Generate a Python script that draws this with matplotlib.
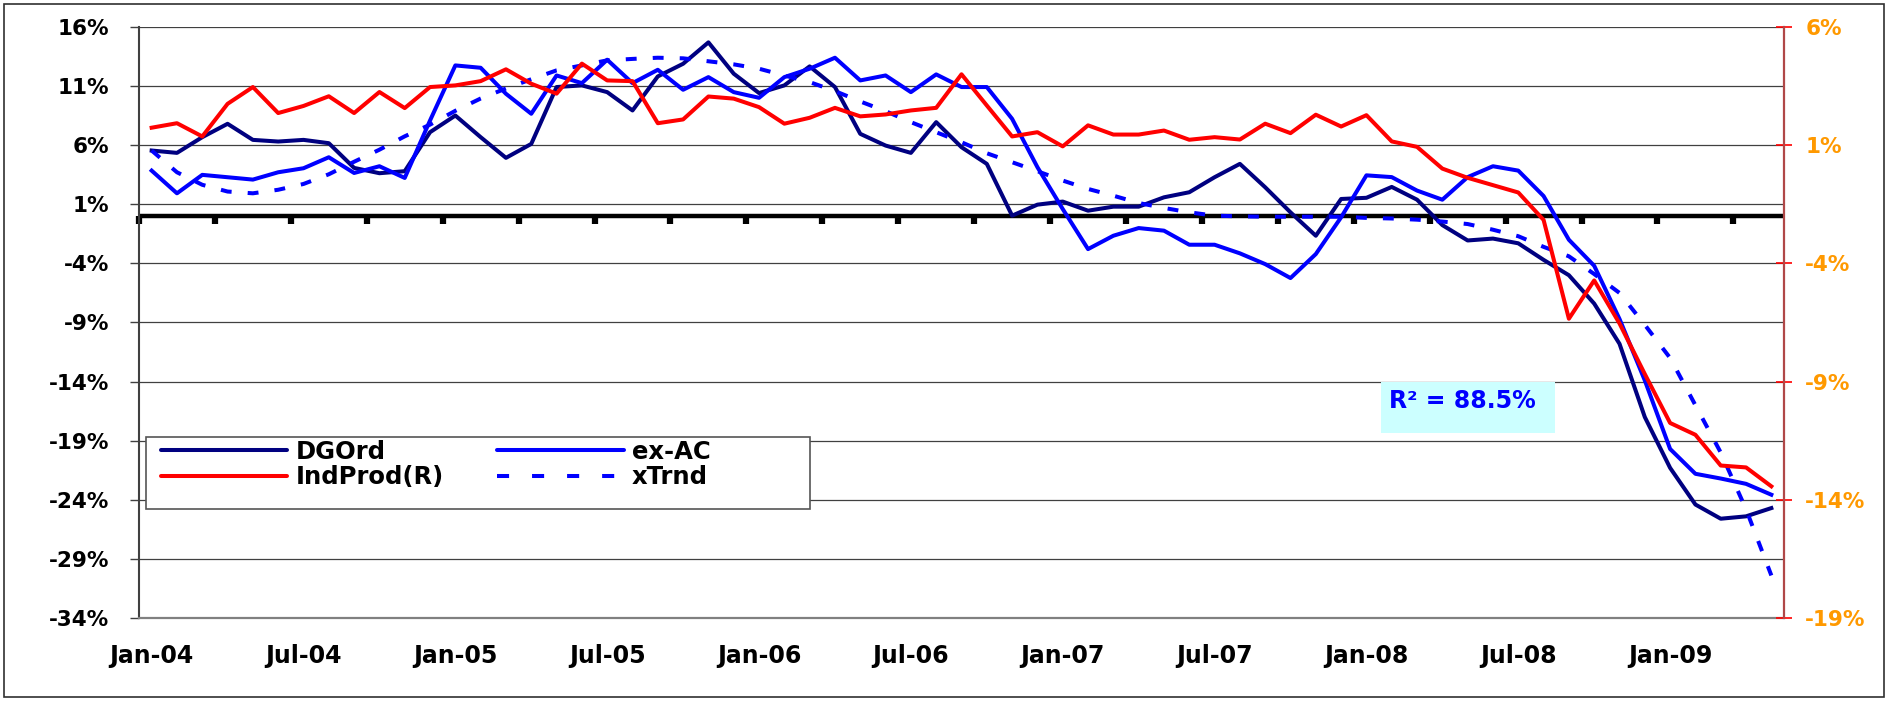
import numpy as np
import pandas as pd
import matplotlib
matplotlib.use("Agg")
import matplotlib.pyplot as plt
from matplotlib.patches import Rectangle
from matplotlib.lines import Line2D

# ---------------- data ----------------
months = [d.strftime("%b-%y") for d in pd.period_range("2004-01", "2009-05", freq="M")]

dgord = [5.55, 5.35, 6.68, 7.81, 6.45, 6.31, 6.45, 6.17, 4.08, 3.63, 3.80, 7.10,
         8.51, 6.68, 4.93, 6.11, 10.92, 11.06, 10.49, 8.94, 11.82, 12.89, 14.70, 12.05,
         10.41, 11.06, 12.67, 10.92, 6.96, 5.97, 5.35, 7.95, 5.83, 4.42, 0.04, 0.97,
         1.23, 0.46, 0.80, 0.80, 1.59, 2.02, 3.29, 4.42, 2.44, 0.32, -1.66, 1.45,
         1.55, 2.47, 1.39, -0.76, -2.06, -1.90, -2.30, -3.70, -5.00, -7.40, -10.80, -17.00,
         -21.30, -24.40, -25.60, -25.40, -24.70]

ex_ac = [3.85, 1.93, 3.49, 3.29, 3.09, 3.71, 4.05, 4.98, 3.65, 4.22, 3.23, 8.09,
         12.75, 12.55, 10.35, 8.66, 11.90, 11.25, 13.23, 11.25, 12.38, 10.69, 11.76, 10.49,
         10.01, 11.76, 12.47, 13.40, 11.48, 11.90, 10.49, 11.99, 10.92, 10.92, 8.23, 4.14,
         0.60, -2.79, -1.66, -1.01, -1.23, -2.42, -2.42, -3.15, -4.06, -5.24, -3.21, -0.10,
         3.45, 3.30, 2.16, 1.39, 3.30, 4.22, 3.85, 1.70, -2.00, -4.20, -8.70, -13.90,
         -19.70, -21.80, -22.20, -22.65, -23.57]

indprod = [1.74, 1.93, 1.37, 2.75, 3.46, 2.36, 2.66, 3.07, 2.36, 3.25, 2.57, 3.46,
           3.53, 3.71, 4.21, 3.60, 3.18, 4.45, 3.74, 3.71, 1.93, 2.09, 3.06, 2.97,
           2.61, 1.91, 2.16, 2.58, 2.22, 2.30, 2.47, 2.58, 4.00, 2.68, 1.37, 1.55,
           0.95, 1.84, 1.45, 1.45, 1.62, 1.23, 1.34, 1.24, 1.91, 1.51, 2.29, 1.79,
           2.27, 1.16, 0.93, 0.01, -0.38, -0.69, -1.00, -2.16, -6.34, -4.72, -6.54, -8.68,
           -10.75, -11.25, -12.55, -12.63, -13.43]

xtrnd = [5.55, 3.71, 2.65, 2.08, 1.93, 2.23, 2.72, 3.54, 4.60, 5.62, 6.75, 7.74,
         8.91, 9.95, 10.80, 11.58, 12.33, 12.75, 13.18, 13.30, 13.40, 13.35, 13.10, 12.84,
         12.47, 11.90, 11.34, 10.58, 9.70, 8.88, 7.95, 7.10, 6.25, 5.32, 4.56, 3.80,
         3.01, 2.30, 1.73, 1.11, 0.69, 0.32, 0.04, -0.02, -0.05, -0.05, -0.05, -0.05,
         -0.15, -0.20, -0.30, -0.46, -0.67, -1.15, -1.70, -2.60, -3.40, -4.90, -6.50, -9.20,
         -12.00, -16.00, -20.00, -24.80, -30.40]

left_ticks = [16, 11, 6, 1, -4, -9, -14, -19, -24, -29, -34]
right_ticks = [6, 1, -4, -9, -14, -19]
left_labels = [f"{t}%" for t in left_ticks]
right_labels = [f"{t}%" for t in right_ticks]
r2_text = "R\u00b2 = 88.5%"
series_names = ["DGOrd", "IndProd(R)", "ex-AC", "xTrnd"]

# ---------------- styling ----------------
plt.rcParams['font.family'] = ['DejaVu Sans']
plt.rcParams['font.weight'] = 'bold'

NAVY = '#000080'
BLUE = '#0000FF'
RED = '#FF0000'
ORANGE = '#FF9900'
LW = 2.9

W, H = 1900, 701
fig = plt.figure(figsize=(W / 100, H / 100), dpi=100)
L, R, T, B = 139, 1784, 27, 618
ax = fig.add_axes([L / W, 1 - B / H, (R - L) / W, (B - T) / H])
ax2 = ax.twinx()

x = np.arange(len(months))
ax.set_xlim(-0.5, len(months) - 0.5)
ax.set_ylim(-34, 16)
ax2.set_ylim(-19, 6)

# grid
ax.set_yticks(left_ticks)
ax.set_yticklabels(left_labels)
ax.yaxis.grid(True, color='#404040', lw=0.9, zorder=0)
ax.set_axisbelow(True)

# x ticks
xt = x[::6]
ax.set_xticks(xt)
ax.set_xticklabels([months[i] for i in xt])
ax.tick_params(axis='x', length=0, pad=19, labelsize=17)
ax.tick_params(axis='y', direction='out', length=6.5, width=1, color='#404040',
               pad=15, labelsize=15.5)

ax2.set_yticks(right_ticks)
ax2.set_yticklabels(right_labels)
ax2.tick_params(axis='y', direction='inout', length=11.5, width=1.2, color=RED,
                pad=9.5, labelsize=15.5, labelcolor=ORANGE)

for s in ['top', 'right']:
    ax.spines[s].set_visible(False)
ax.spines['left'].set_color('#404040')
ax.spines['left'].set_linewidth(1.5)
ax.spines['bottom'].set_color('#808080')
ax.spines['bottom'].set_linewidth(1.6)
for s in ['top', 'left', 'bottom']:
    ax2.spines[s].set_visible(False)
ax2.spines['right'].set_color('#B04848')
ax2.spines['right'].set_linewidth(1.6)

# zero (category) axis with tick dots every 3 categories
ax.axhline(0, color='black', lw=3.2, zorder=2)
bounds = np.arange(-0.5, len(months), 3)
ax.plot(bounds, np.zeros_like(bounds), ls='none', marker=3, ms=6, mew=4.5,
        color='black', zorder=2, clip_on=False)

# series
ax.plot(x, dgord, color=NAVY, lw=LW, zorder=3)
ax.plot(x, ex_ac, color=BLUE, lw=LW, zorder=3)
ax.plot(x, xtrnd, color=BLUE, lw=LW, dashes=(2.7, 4.0), zorder=3)
ax2.plot(x, indprod, color=RED, lw=LW, zorder=3)

# legend
handles = [
    Line2D([], [], color=NAVY, lw=LW, solid_capstyle='round'),
    Line2D([], [], color=RED, lw=LW, solid_capstyle='round'),
    Line2D([], [], color=BLUE, lw=LW, solid_capstyle='round'),
    Line2D([], [], color=BLUE, lw=LW, dashes=(3.0, 5.7)),
]
ax2.add_patch(Rectangle(((146 - L) / (R - L), (B - 509) / (B - T)),
                        (810 - 146) / (R - L), 72 / (B - T),
                        transform=ax2.transAxes, facecolor='white',
                        edgecolor='#555555', lw=1.2, zorder=5))
leg = ax2.legend(handles, series_names, ncol=2, loc='upper left',
                 bbox_to_anchor=((161 - L) / (R - L), (B - 440) / (B - T)),
                 frameon=False, borderpad=0, borderaxespad=0,
                 handlelength=5.2, handletextpad=0.33, columnspacing=2.2,
                 labelspacing=0.05, prop=dict(size=17.5, weight='bold'))
leg.set_zorder(6)

# R^2 box
ax2.add_patch(Rectangle(((1381 - L) / (R - L), (B - 433) / (B - T)),
                        (1555 - 1381) / (R - L), 51 / (B - T),
                        transform=ax2.transAxes, facecolor='#CCFFFF',
                        edgecolor='none', zorder=5))
ax2.text((1389 - L) / (R - L), (B - 401) / (B - T), r2_text, transform=ax2.transAxes,
         ha='left', va='center', fontsize=17, fontweight='bold', color=BLUE, zorder=6)

# chart border
fig.patches.append(Rectangle((4 / W, 4 / H), 1880 / W, 693 / H, transform=fig.transFigure,
                             fill=False, edgecolor='#303030', lw=1.2))

fig.savefig("out.png", dpi=100)
